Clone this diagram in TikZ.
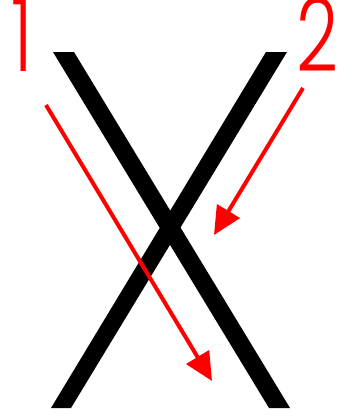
\documentclass[tikz,border=0pt]{standalone}
\usepackage{fontspec}
\newfontfamily\thinfont{Poppins Light}
\usetikzlibrary{arrows.meta}
\begin{document}
\begin{tikzpicture}[x=1pt,y=-1pt,
  strokebar/.style={fill=black},
  redarrow/.style={draw=red,line width=4pt,-{Triangle[length=28pt,width=26pt]}},
  numlabel/.style={text=red,font=\thinfont\fontsize{102}{102}\selectfont,inner sep=0pt,anchor=base,xscale=0.72}]
\useasboundingbox (0,0) rectangle (351,416);
\fill[white] (0,0) rectangle (351,416);
% the X
\fill[strokebar] (53,52) -- (74,52) -- (290,408) -- (269,408) -- cycle;
\fill[strokebar] (266,52) -- (287,52) -- (71,408) -- (51,408) -- cycle;
% numbers
\node[numlabel] (n1) at (22,71) {1};
\node[numlabel] (n2) at (318,71) {2};
% arrows
\coordinate (a1s) at (46,105);
\coordinate (a1e) at (212,381);
\coordinate (a2s) at (303,88);
\coordinate (a2e) at (214,235);
\draw[redarrow] (a1s) -- (a1e);
\draw[redarrow] (a2s) -- (a2e);
\end{tikzpicture}
\end{document}
